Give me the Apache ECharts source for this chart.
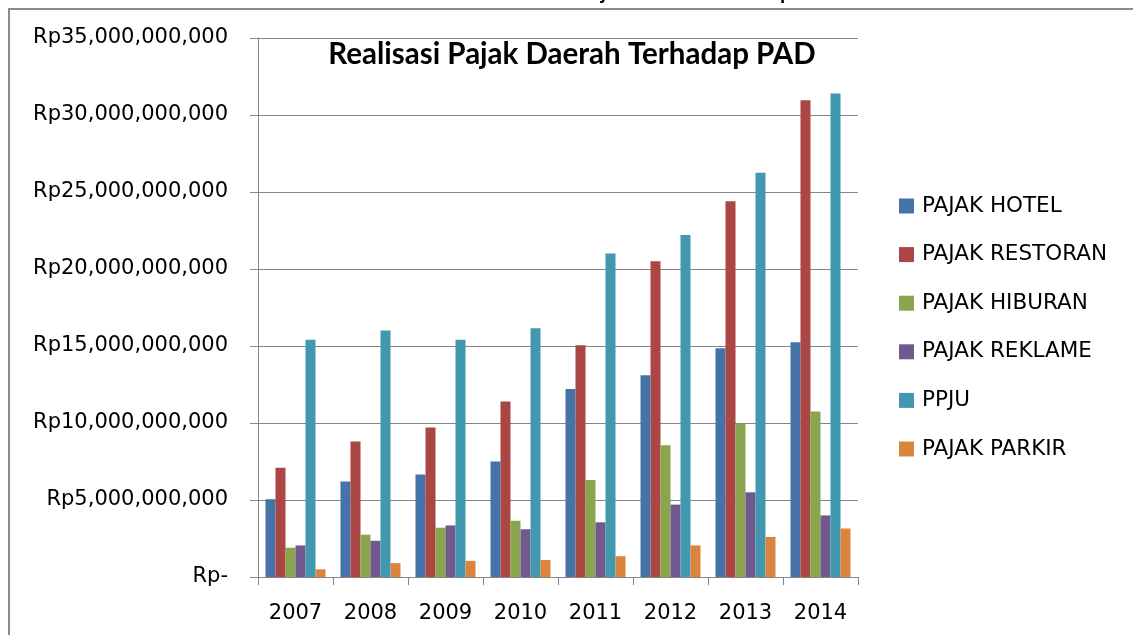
<!DOCTYPE html>
<html>
<head>
<meta charset="utf-8">
<script src="https://cdn.jsdelivr.net/npm/echarts@6/dist/echarts.min.js"></script>
<style>
html,body{margin:0;padding:0;background:#fff;}
#chart{width:1133px;height:635px;}
</style>
</head>
<body>
<div id="chart"></div>
<script>
var years = ['2007','2008','2009','2010','2011','2012','2013','2014'];
var seriesNames = ['PAJAK HOTEL','PAJAK RESTORAN','PAJAK HIBURAN','PAJAK REKLAME','PPJU','PAJAK PARKIR'];
var pajakHotel    = [5.05e9, 6.2e9, 6.65e9, 7.5e9, 12.2e9, 13.1e9, 14.85e9, 15.25e9];
var pajakRestoran = [7.1e9, 8.8e9, 9.7e9, 11.4e9, 15.05e9, 20.5e9, 24.4e9, 30.95e9];
var pajakHiburan  = [1.9e9, 2.75e9, 3.2e9, 3.65e9, 6.3e9, 8.55e9, 9.95e9, 10.75e9];
var pajakReklame  = [2.05e9, 2.35e9, 3.35e9, 3.1e9, 3.55e9, 4.7e9, 5.5e9, 4.0e9];
var ppju          = [15.4e9, 16.0e9, 15.4e9, 16.15e9, 21.0e9, 22.2e9, 26.25e9, 31.4e9];
var pajakParkir   = [0.5e9, 0.9e9, 1.05e9, 1.1e9, 1.35e9, 2.05e9, 2.6e9, 3.15e9];
var yTicks = {min: 0, max: 35e9, interval: 5e9};
var colors = ['#4572A7','#AA4643','#89A54E','#71588F','#4198AF','#DB843D'];

var allData = [pajakHotel, pajakRestoran, pajakHiburan, pajakReklame, ppju, pajakParkir];

function fmtRp(v){
  if (v === 0) return 'Rp-';
  return 'Rp' + String(Math.round(v)).replace(/\B(?=(\d{3})+(?!\d))/g, ',');
}

var chart = echarts.init(document.getElementById('chart'), null, {renderer:'canvas'});
var gridColor = '#868686';
var font = 'DejaVu Sans';

var option = {
  animation: false,
  backgroundColor: '#fff',
  color: colors,
  grid: {left: 258, right: 275, top: 38, bottom: 58, containLabel: false},
  graphic: [
    {type:'line', shape:{x1:8, y1:9, x2:1133, y2:9}, style:{stroke:'#8c8c8c', lineWidth:2}},
    {type:'line', shape:{x1:9, y1:8, x2:9, y2:635}, style:{stroke:'#8c8c8c', lineWidth:2}},
    {type:'text', x:792, y:-18, style:{text:'Kontribusi Pajak Daerah Terhadap', font:'bold 21px Lato', fill:'#000', align:'right', verticalAlign:'top'}},
    {type:'text', x:572, y:54, style:{text:'Realisasi Pajak Daerah Terhadap PAD', font:'bold 29.5px Lato', fill:'#000', align:'center', verticalAlign:'middle'}}
  ],
  legend: {
    orient: 'vertical',
    left: 899,
    top: 194,
    padding: 0,
    itemWidth: 15,
    itemHeight: 15,
    itemGap: 24.6,
    icon: 'rect',
    textStyle: {fontFamily: font, fontSize: 21.5, color: '#000', lineHeight: 24, padding: [0,0,0,3]},
    data: seriesNames
  },
  xAxis: {
    type: 'category',
    data: years,
    axisLine: {show: true, lineStyle: {color: gridColor, width: 1}},
    axisTick: {show: true, length: 8, alignWithLabel: false, lineStyle: {color: gridColor}},
    axisLabel: {fontFamily: font, fontSize: 21, color: '#000', margin: 26},
    splitLine: {show: false}
  },
  yAxis: {
    type: 'value',
    min: yTicks.min,
    max: yTicks.max,
    interval: yTicks.interval,
    axisLine: {show: true, lineStyle: {color: gridColor, width: 1}},
    axisTick: {show: true, length: 8, lineStyle: {color: gridColor}},
    axisLabel: {fontFamily: font, fontSize: 21, color: '#000', margin: 30, formatter: fmtRp},
    splitLine: {show: true, lineStyle: {color: gridColor, width: 1}}
  },
  series: seriesNames.map(function(n, i){
    return {
      name: n,
      type: 'bar',
      data: allData[i],
      barGap: '0%',
      barCategoryGap: '20%',
      itemStyle: {color: colors[i]}
    };
  })
};
chart.setOption(option);
</script>
</body>
</html>
